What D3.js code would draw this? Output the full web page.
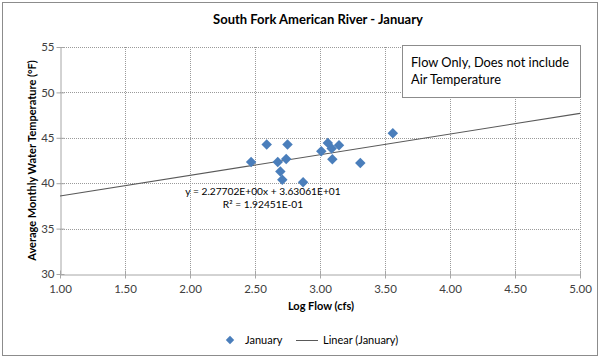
<!DOCTYPE html>
<html><head><meta charset="utf-8">
<script src="https://cdn.jsdelivr.net/npm/d3@7"></script>
<style>
html,body{margin:0;padding:0;background:#fff;}
svg{display:block;font-family:Lato,"Open Sans",sans-serif;}
</style></head>
<body>
<svg id="chart" width="600" height="358"></svg>
<script>
const logFlow = [2.47, 2.59, 2.75, 2.675, 2.74, 2.695, 2.71, 2.87, 3.01, 3.06, 3.09, 3.146, 3.095, 3.31, 3.56];
const waterTemp = [42.33, 44.27, 44.27, 42.33, 42.67, 41.3, 40.38, 40.1, 43.52, 44.44, 43.82, 44.19, 42.63, 42.22, 45.49];
const xTicks = [1.0, 1.5, 2.0, 2.5, 3.0, 3.5, 4.0, 4.5, 5.0];
const yTicks = [30, 35, 40, 45, 50, 55];
const slope = 2.27702, intercept = 36.3061;
const titleText = "South Fork American River - January";
const eqLines = ["y = 2.27702E+00x + 3.63061E+01", "R² = 1.92451E-01"];
const noteLines = ["Flow Only, Does not include", "Air Temperature"];

const svg = d3.select("#chart");
const W = 600, H = 358;
const L = 60, R = 580, T = 47, B = 274;
const x = d3.scaleLinear().domain([1, 5]).range([L, R]);
const y = d3.scaleLinear().domain([30, 55]).range([B, T]);

// outer border
svg.append("rect").attr("x", 2.5).attr("y", 2.5).attr("width", W - 5).attr("height", H - 5)
  .attr("fill", "#fff").attr("stroke", "#8c8c8c").attr("stroke-width", 1);

// title
svg.append("text").attr("x", 318).attr("y", 24).attr("text-anchor", "middle")
  .attr("font-size", 13).attr("font-weight", "bold").attr("fill", "#000").text(titleText);

// gridlines
const g = svg.append("g");
g.selectAll(".hg").data(yTicks.filter(d => d > 30)).enter().append("line")
  .attr("x1", L).attr("x2", R).attr("y1", d => Math.round(y(d)) + 0.5).attr("y2", d => Math.round(y(d)) + 0.5)
  .attr("stroke", "#9a9a9a").attr("stroke-dasharray", "1,1");
g.selectAll(".vg").data(xTicks.filter(d => d > 1)).enter().append("line")
  .attr("y1", T).attr("y2", B).attr("x1", d => Math.round(x(d)) + 0.5).attr("x2", d => Math.round(x(d)) + 0.5)
  .attr("stroke", "#9a9a9a").attr("stroke-dasharray", "1,1");

// axes
const yAxis = d3.axisLeft(y).tickValues(yTicks).tickSize(0).tickPadding(6).tickFormat(d3.format("d"));
const ya = svg.append("g").attr("transform", `translate(${L + 0.5},0)`).call(yAxis);
ya.select(".domain").attr("stroke", "#a6a6a6");
ya.selectAll("text").attr("font-size", 11.5).attr("fill", "#404040").attr("font-family", "Lato,sans-serif");
ya.selectAll(".tick").append("line").attr("x1", -4).attr("x2", 4).attr("stroke", "#a6a6a6");

const xAxis = d3.axisBottom(x).tickValues(xTicks).tickSize(0).tickPadding(10).tickFormat(d3.format(".2f"));
const xa = svg.append("g").attr("transform", `translate(0,${B + 0.5})`).call(xAxis);
xa.select(".domain").attr("stroke", "#a6a6a6");
xa.selectAll("text").attr("font-size", 11.5).attr("fill", "#404040").attr("font-family", "Lato,sans-serif");
xa.selectAll(".tick").append("line").attr("y1", -4).attr("y2", 4).attr("stroke", "#a6a6a6");

// axis titles
svg.append("text").attr("x", 321).attr("y", 310).attr("text-anchor", "middle")
  .attr("font-size", 11).attr("font-weight", "bold").attr("fill", "#000").text("Log Flow (cfs)");
svg.append("text").attr("transform", `translate(36,${(T + B) / 2}) rotate(-90)`).attr("text-anchor", "middle")
  .attr("font-size", 11).attr("font-weight", "bold").attr("fill", "#000")
  .text("Average Monthly Water Temperature (°F)");

// trendline
svg.append("line").attr("x1", x(1)).attr("y1", y(slope * 1 + intercept))
  .attr("x2", x(5)).attr("y2", y(slope * 5 + intercept))
  .attr("stroke", "#595959").attr("stroke-width", 1.1);

// points
const diamond = d3.symbol().type(d3.symbolDiamond2).size(70);
svg.append("g").selectAll("path").data(logFlow.map((v, i) => [v, waterTemp[i]])).enter().append("path")
  .attr("d", diamond).attr("transform", d => `translate(${x(d[0])},${y(d[1])})`)
  .attr("fill", "#4a7ebb");

// equation
svg.selectAll(".eq").data(eqLines).enter().append("text")
  .attr("x", 263).attr("y", (d, i) => 195 + i * 13).attr("text-anchor", "middle")
  .attr("font-size", 10.2).attr("fill", "#000").text(d => d);

// note box
svg.append("rect").attr("x", 402.5).attr("y", 45.5).attr("width", 178).attr("height", 52)
  .attr("fill", "#fff").attr("stroke", "#8c8c8c");
svg.selectAll(".note").data(noteLines).enter().append("text")
  .attr("x", 411).attr("y", (d, i) => 67 + i * 17).attr("font-size", 12.8).attr("fill", "#000").text(d => d);

// legend
svg.append("path").attr("d", d3.symbol().type(d3.symbolDiamond2).size(45)).attr("transform", "translate(230,340)")
  .attr("fill", "#4a7ebb");
svg.append("text").attr("x", 245).attr("y", 344).attr("font-size", 11).attr("fill", "#000").text("January");
svg.append("line").attr("x1", 296).attr("x2", 318).attr("y1", 340.5).attr("y2", 340.5).attr("stroke", "#595959");
svg.append("text").attr("x", 323).attr("y", 344).attr("font-size", 11).attr("fill", "#000").text("Linear (January)");
</script>
</body></html>
